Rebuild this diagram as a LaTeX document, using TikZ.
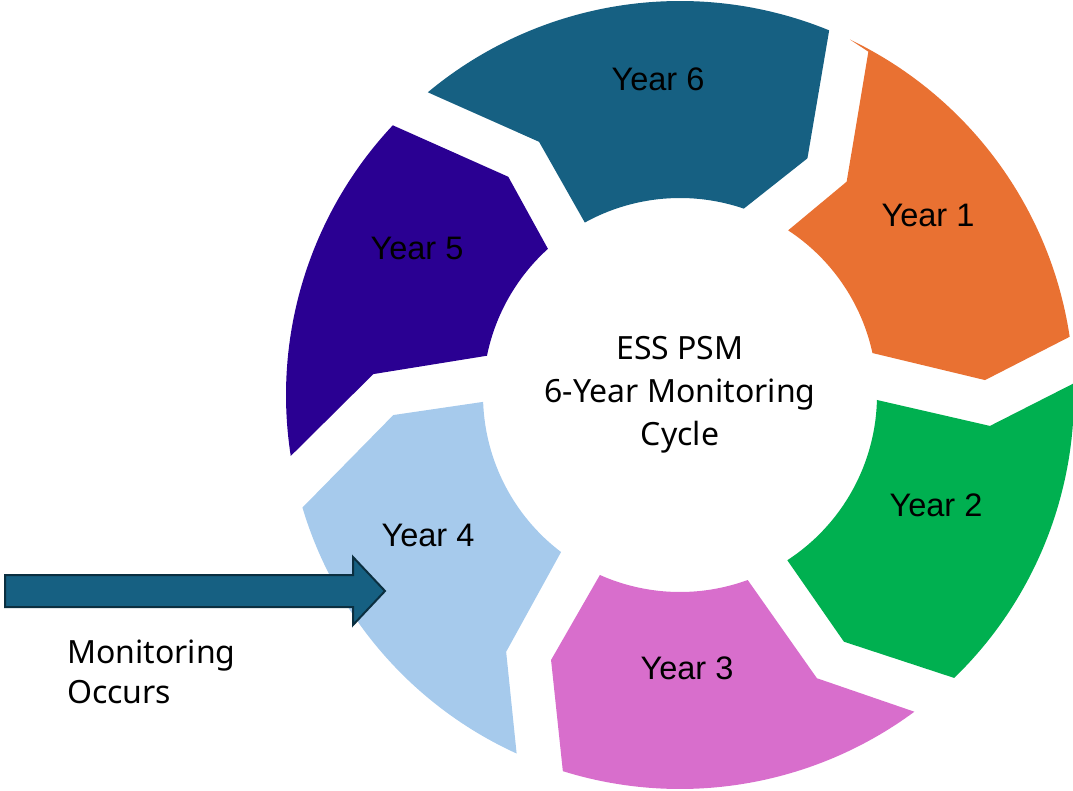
\documentclass[tikz,border=0pt]{standalone}
\usepackage{fontspec}
\setmainfont{Noto Sans}
\newfontfamily\yearfont{Liberation Sans}
\usepackage{tikz}
\definecolor{yrone}{HTML}{E97132}
\definecolor{yrtwo}{HTML}{00B050}
\definecolor{yrthree}{HTML}{D86ECC}
\definecolor{yrfour}{HTML}{A6CAEC}
\definecolor{yrfive}{HTML}{2A0092}
\definecolor{yrsix}{HTML}{166082}
\definecolor{arrowline}{HTML}{0B2F40}
\tikzset{
	seg/.style={fill=#1,draw=none},
	yearlbl/.style={font=\yearfont\fontsize{24.4}{29}\selectfont,inner sep=0pt},
	midlbl/.style={font=\fontsize{24}{32.25}\selectfont,align=center,inner sep=0pt},
	sidelbl/.style={font=\fontsize{24}{30}\selectfont,align=left,inner sep=0pt}
}

\begin{document}
\begin{tikzpicture}[x=0.75pt,y=-0.75pt]
	\useasboundingbox (0,0) rectangle (1073,791);
	\coordinate (c) at (680,395);

	% ring of six blocks, outer r=394, inner r=197
	\begin{scope}[shift={(c)}]
		\fill[seg=yrone] (-64.45:394) arc[start angle=-64.45,end angle=-8.5,radius=394] -- (-2.8:305.4) -- (-12.3:197) arc[start angle=-12.3,end angle=-56.7,radius=197] -- (-52:270.7) -- (-61.25:391.6) -- cycle;
		\fill[seg=yrtwo] (-1.7:394) arc[start angle=-1.7,end angle=45.9,radius=394] -- (56.4:296.2) -- (57:197) arc[start angle=57,end angle=1.45,radius=197] -- (5.7:311.5) -- cycle;
		\fill[seg=yrthree] (53.5:394) arc[start angle=53.5,end angle=107.3,radius=394] -- (115.95:294.7) -- (114:197) arc[start angle=114,end angle=69.9,radius=197] -- (64.2:314.6) -- cycle;
		\fill[seg=yrfour] (114.5:394) arc[start angle=114.5,end angle=163.4,radius=394] -- (176:287.4) -- (178:197) arc[start angle=178,end angle=127.15,radius=197] -- (124.1:310.1) -- cycle;
		\fill[seg=yrfive] (171.1:394) arc[start angle=171.1,end angle=223.2,radius=394] -- (231.8:277.7) -- (227.9:197) arc[start angle=227.9,end angle=191.5,radius=197] -- (183.9:307.4) -- cycle;
		\fill[seg=yrsix] (230.2:394) arc[start angle=230.2,end angle=292.25,radius=394] -- (298.3:268.8) -- (288.9:197) arc[start angle=288.9,end angle=241.1,radius=197] -- (240.9:289.8) -- cycle;
	\end{scope}

	\node[yearlbl] (y1) at (928,215) {Year 1};
	\node[yearlbl] (y2) at (936,505) {Year 2};
	\node[yearlbl] (y3) at (687,668) {Year 3};
	\node[yearlbl] (y4) at (428,535) {Year 4};
	\node[yearlbl] (y5) at (417,248) {Year 5};
	\node[yearlbl] (y6) at (658,79) {Year 6};

	\node[midlbl] (cycle) at (c) {ESS PSM\\6-Year Monitoring\\Cycle};

	% block arrow into year 4
	\fill[yrsix,draw=arrowline,line width=1.5pt,line join=miter] (5,575) -- (353,575) -- (353,557) -- (385,591) -- (353,625) -- (353,607) -- (5,607) -- cycle;
	\node[sidelbl,anchor=north west] (mon) at (67,640) {Monitoring\\Occurs};
\end{tikzpicture}
\end{document}
